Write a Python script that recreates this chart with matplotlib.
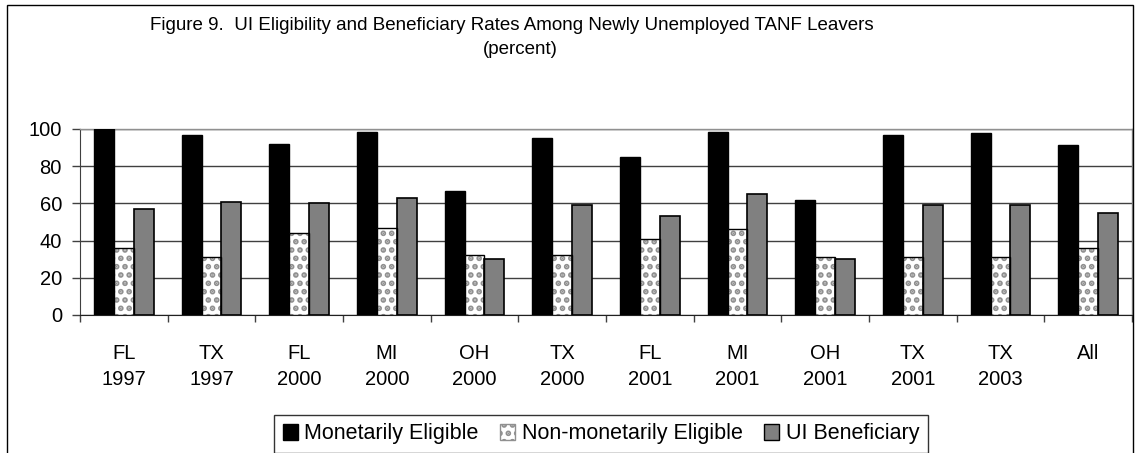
import matplotlib
matplotlib.use("Agg")
import matplotlib.pyplot as plt
import numpy as np
from matplotlib.patches import Rectangle, Patch

plt.rcParams['font.family'] = ['Liberation Sans', 'DejaVu Sans']
plt.rcParams['hatch.linewidth'] = 2.8

categories = ["FL\n1997", "TX\n1997", "FL\n2000", "MI\n2000", "OH\n2000", "TX\n2000",
              "FL\n2001", "MI\n2001", "OH\n2001", "TX\n2001", "TX\n2003", "All"]
monetarily_eligible = [100, 97, 92, 98.5, 66.5, 95, 85, 98.5, 62, 97, 98, 91.5]
non_monetarily_eligible = [36, 31, 44, 47, 32, 32, 41, 46, 31, 31, 31, 36]
ui_beneficiary = [57, 61, 60, 63, 30, 59, 53, 65, 30, 59, 59, 55]
series_names = ["Monetarily Eligible", "Non-monetarily Eligible", "UI Beneficiary"]
y_ticks = [0, 20, 40, 60, 80, 100]

W, H = 1135, 453
fig = plt.figure(figsize=(W / 100, H / 100), dpi=100)
ax = fig.add_axes([80 / W, 1 - 315 / H, (1132 - 80) / W, (315 - 129) / H])

x = np.arange(len(categories))
bw = 0.228
ax.bar(x - bw, monetarily_eligible, bw, color='black', edgecolor='black', linewidth=1, zorder=3)
ax.bar(x, non_monetarily_eligible, bw, color='white', edgecolor='#909090', hatch='..', linewidth=0, zorder=3)
ax.bar(x, non_monetarily_eligible, bw, fill=False, edgecolor='black', linewidth=1, zorder=4)
ax.bar(x + bw, ui_beneficiary, bw, color='#808080', edgecolor='black', linewidth=1.2, zorder=3)

ax.set_xlim(-0.5, len(categories) - 0.5)
ax.set_ylim(0, 100)
ax.set_yticks(y_ticks)
ax.set_yticklabels([str(v) for v in y_ticks], fontsize=14.5)
ax.yaxis.grid(True, color='#404040', linewidth=1, zorder=0)
ax.set_axisbelow(True)

ax.set_xticks(x)
ax.set_xticklabels(categories, fontsize=14.5, linespacing=1.45)
ax.tick_params(axis='x', length=0, pad=21)
ax.set_xticks(np.arange(-0.5, len(categories) + 0.5, 1), minor=True)
ax.tick_params(axis='x', which='minor', length=5, width=1, color='#404040', direction='out')
ax.tick_params(axis='y', length=6, width=1, color='#404040', direction='out', pad=7)

for s in ['top', 'right']:
    ax.spines[s].set_color('#909090')
    ax.spines[s].set_linewidth(1)
ax.spines['left'].set_color('#404040')
ax.spines['bottom'].set_color('#202020')

fig.text(512 / W, 1 - 26 / H, "Figure 9.  UI Eligibility and Beneficiary Rates Among Newly Unemployed TANF Leavers",
         ha='center', va='center', fontsize=13.5)
fig.text(520 / W, 1 - 50 / H, "(percent)", ha='center', va='center', fontsize=13.5)

# outer frame
fig.add_artist(Rectangle((7 / W, -0.01), (1133 - 7) / W, 1 - 5 / H + 0.01, transform=fig.transFigure,
                         fill=False, edgecolor='black', linewidth=1))

handles = [Patch(facecolor='black', edgecolor='black'),
           Patch(facecolor='white', edgecolor='#909090', hatch='..'),
           Patch(facecolor='#808080', edgecolor='black')]
leg = fig.legend(handles, series_names, loc='center', bbox_to_anchor=(601 / W, 1 - 434 / H),
                 ncol=3, fontsize=15.5, frameon=True, fancybox=False, edgecolor='black',
                 handlelength=0.7, handleheight=0.7, handletextpad=0.3, columnspacing=1.0,
                 borderpad=0.4, borderaxespad=0)
leg.get_frame().set_linewidth(1)

fig.savefig("out.png", dpi=100)
